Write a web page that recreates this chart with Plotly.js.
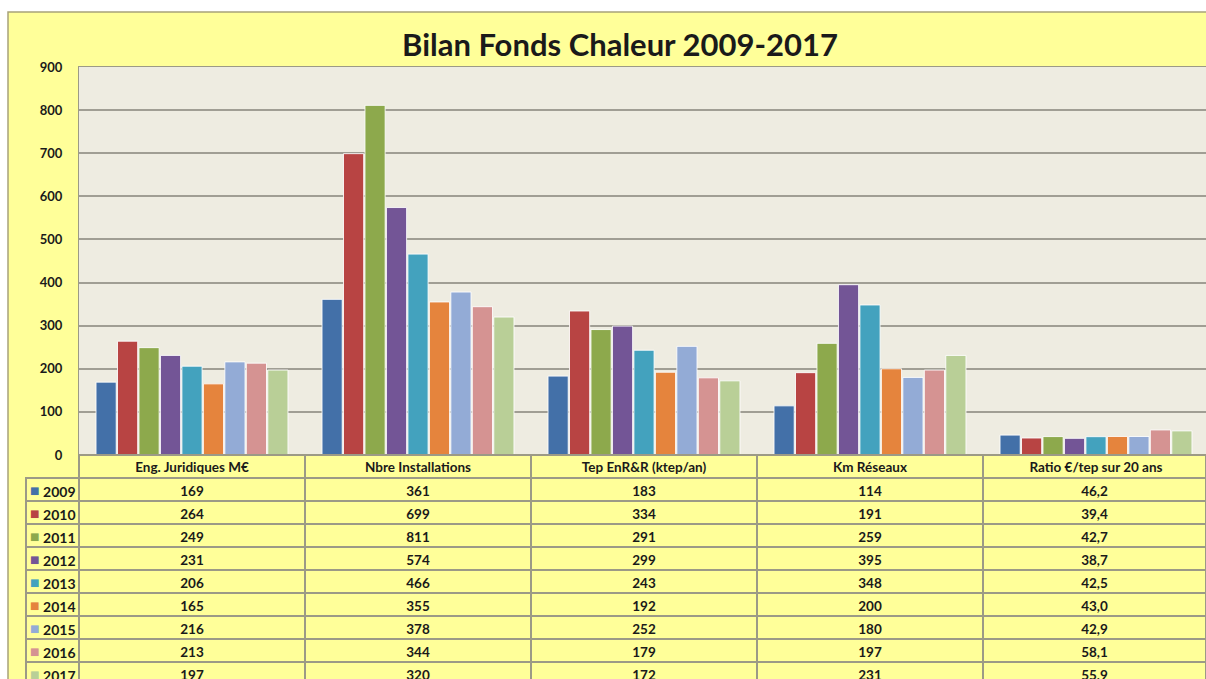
<!DOCTYPE html>
<html>
<head>
<meta charset="utf-8">
<script src="https://cdn.plot.ly/plotly-3.0.1.min.js"></script>
<style>html,body{margin:0;padding:0;background:#fff;overflow:hidden;}#wrap{width:1206px;height:679px;overflow:hidden;}#chart{width:1206px;height:686px;}</style>
</head>
<body>
<div id="wrap"><div id="chart"></div></div>
<script>
// ---- data ----
const categories = ["Eng. Juridiques M€", "Nbre Installations", "Tep EnR&R (ktep/an)", "Km Réseaux", "Ratio €/tep sur 20 ans"];
const years = ["2009", "2010", "2011", "2012", "2013", "2014", "2015", "2016", "2017"];
const v2009 = [169, 361, 183, 114, 46.2];
const v2010 = [264, 699, 334, 191, 39.4];
const v2011 = [249, 811, 291, 259, 42.7];
const v2012 = [231, 574, 299, 395, 38.7];
const v2013 = [206, 466, 243, 348, 42.5];
const v2014 = [165, 355, 192, 200, 43.0];
const v2015 = [216, 378, 252, 180, 42.9];
const v2016 = [213, 344, 179, 197, 58.1];
const v2017 = [197, 320, 172, 231, 55.9];
const yTicks = [0, 100, 200, 300, 400, 500, 600, 700, 800, 900];

const series = [v2009, v2010, v2011, v2012, v2013, v2014, v2015, v2016, v2017];
const colors = ["#4370A8", "#B84443", "#8DA94C", "#735596", "#43A2BE", "#E5843D", "#93ABD6", "#D59392", "#B9CF97"];

// figure is slightly taller than the window so the last table row is cut like the reference
const W = 1206, H = 686;
const mL = 26, mT = 67;
const plotW = W - mL, plotH = H - mT;
const headerH = 23, rowH = 23;
const tableH = headerH + years.length * rowH + 1;
const yDomBottom = tableH / plotH;
const xDomLeft = 53 / plotW;

const traces = series.map((vals, i) => ({
  type: 'bar',
  name: years[i],
  x: categories,
  y: vals,
  marker: {color: colors[i], line: {color: 'rgba(255,255,255,0.85)', width: 1}},
  showlegend: false,
  hoverinfo: 'x+y+name'
}));

function fmt(v, col) {
  return col === 4 ? v.toFixed(1).replace('.', ',') : String(v);
}

const rowHeaders = years.map(y => '\u00a0\u00a0\u00a0\u00a0' + y);
const tableCols = [rowHeaders].concat(categories.map((c, ci) => series.map(s => fmt(s[ci], ci))));

const lineC = '#9C9A86';
const tfont = {family: 'Lato, sans-serif', size: 13.5, color: '#1a1a1a', weight: 'bold'};
// header cells carry the grid only; the category names are the x-axis labels drawn in them
traces.push({
  type: 'table',
  domain: {x: [0, 1], y: [0, yDomBottom]},
  columnwidth: [53, 226, 226, 226, 226, 223],
  header: {
    values: ['', '', '', '', '', ''],
    height: headerH,
    align: 'center',
    fill: {color: 'rgba(0,0,0,0)'},
    line: {color: ['rgba(0,0,0,0)', lineC, lineC, lineC, lineC, lineC], width: 2},
    font: tfont
  },
  cells: {
    values: tableCols,
    height: rowH,
    align: 'center',
    fill: {color: '#FFFF99'},
    line: {color: lineC, width: 2},
    font: {family: 'Lato, sans-serif', size: [14, 13.5, 13.5, 13.5, 13.5, 13.5], color: '#1a1a1a', weight: 'bold'}
  }
});

const px2x = p => (p - mL) / plotW;
const px2y = p => (H - p) / plotH;
const tableTop = H - tableH;

// legend keys in the row-header column
const keyAnns = years.map((y, i) => ({
  xref: 'paper', yref: 'paper',
  x: px2x(34.5), y: px2y(tableTop + headerH + rowH * i + rowH / 2 + 1),
  text: '■', showarrow: false, xanchor: 'center', yanchor: 'middle',
  font: {family: 'DejaVu Sans', size: 10, color: colors[i]}
}));

const layout = {
  width: W, height: H,
  margin: {l: mL, r: 0, t: mT, b: 0, pad: 0},
  paper_bgcolor: '#FFFF99',
  plot_bgcolor: '#EEECE1',
  barmode: 'group',
  bargap: 0.145,
  bargroupgap: 0.06,
  title: {
    text: '<b>Bilan Fonds Chaleur 2009-2017</b>',
    font: {family: 'Lato, sans-serif', size: 31, color: '#1a1a1a'},
    x: 620 / W, xanchor: 'center', xref: 'container',
    y: 1 - 45 / H, yanchor: 'middle', yref: 'container'
  },
  xaxis: {
    domain: [xDomLeft, 1],
    range: [-0.5, 4.5 - 3 / 226],
    showticklabels: true,
    ticks: '', ticklabelstandoff: 0,
    tickfont: tfont,
    showgrid: false, zeroline: false,
    showline: true, mirror: true, linecolor: '#9C9A86', linewidth: 1,
    automargin: false,
    fixedrange: true
  },
  yaxis: {
    domain: [yDomBottom, 1],
    range: [0, 900],
    tickvals: yTicks,
    ticktext: yTicks.map(String),
    showgrid: true, gridcolor: '#A09E94', gridwidth: 2,
    zeroline: false,
    showline: true, mirror: true, linecolor: '#9C9A86', linewidth: 1,
    ticks: '', ticklabelstandoff: 13,
    tickfont: {family: 'Lato, sans-serif', size: 13, color: '#1a1a1a', weight: 'bold'},
    automargin: false,
    fixedrange: true
  },
  annotations: keyAnns,
  shapes: [
    {type: 'rect', xref: 'paper', yref: 'paper', x0: px2x(-5), x1: px2x(8), y0: px2y(H + 10), y1: px2y(-5), fillcolor: '#FFFFFF', line: {width: 0}, layer: 'below'},
    {type: 'rect', xref: 'paper', yref: 'paper', x0: px2x(-5), x1: px2x(1220), y0: px2y(12), y1: px2y(-5), fillcolor: '#FFFFFF', line: {width: 0}, layer: 'below'},
    {type: 'rect', xref: 'paper', yref: 'paper', x0: px2x(8), x1: px2x(1230), y0: px2y(H + 10), y1: px2y(12), fillcolor: 'rgba(0,0,0,0)', line: {color: '#A8A27A', width: 1.5}, layer: 'below'}
  ]
};

Plotly.newPlot('chart', traces, layout, {displayModeBar: false, staticPlot: true});
</script>
</body>
</html>
